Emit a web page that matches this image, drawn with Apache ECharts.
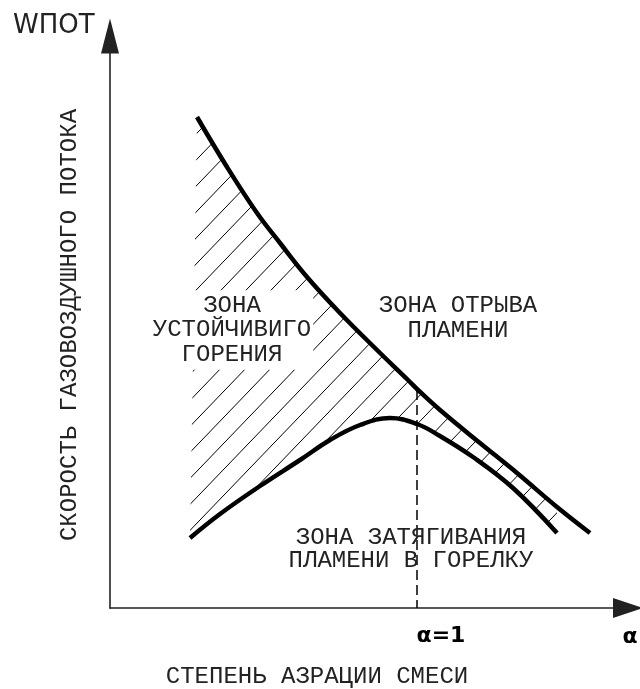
<!DOCTYPE html>
<html><head><meta charset="utf-8">
<script src="https://cdn.jsdelivr.net/npm/echarts@6/dist/echarts.min.js"></script>
<style>html,body{margin:0;padding:0;background:#fff}#c{width:640px;height:689px}</style>
</head><body><div id="c"></div>
<script>
// Upper curve: boundary of flame lift-off (data units)
const upperX = [87, 117, 147, 170, 197, 230, 267, 298, 308, 330, 370, 407, 447, 480];
const upperY = [491, 441, 395, 365, 331, 295, 258, 228, 218, 198, 165, 135, 101, 75];
// Lower curve: boundary of flashback
const lowerX = [80, 110, 150, 190, 220, 250, 280, 307, 330, 363, 403, 447];
const lowerY = [70, 94, 122, 148, 168, 183, 190, 184, 172, 151, 120, 75];
// alpha = 1 marker
const alphaOneX = 307;
const alphaOneTop = 218;
// texts
const yAxisTitle = 'СКОРОСТЬ ГАЗОВОЗДУШНОГО ПОТОКА';
const xAxisTitle = 'СТЕПЕНЬ АЗРАЦИИ СМЕСИ';
const yAxisSymbol = 'WПОТ';
const xAxisSymbol = 'α';
const alphaOneLabel = 'α=1';
const zoneStable = ['ЗОНА', 'УСТОЙЧИВИГО', 'ГОРЕНИЯ'];
const zoneLiftOff = ['ЗОНА ОТРЫВА', 'ПЛАМЕНИ'];
const zoneFlashback = ['ЗОНА ЗАТЯГИВАНИЯ', 'ПЛАМЕНИ В ГОРЕЛКУ'];

const upperData = upperX.map((x, i) => [x, upperY[i]]);
const lowerData = lowerX.map((x, i) => [x, lowerY[i]]);
const hatchEnd = lowerX[lowerX.length - 1];

// hatch pattern
const TW = 25, TH = 26;
const pc = document.createElement('canvas');
pc.width = TW; pc.height = TH;
const pctx = pc.getContext('2d');
pctx.strokeStyle = '#000';
pctx.lineWidth = 1;
pctx.beginPath();
pctx.moveTo(-TW, 2 * TH); pctx.lineTo(2 * TW, -TH);
pctx.stroke();

const chart = echarts.init(document.getElementById('c'), null, {renderer: 'canvas'});
const font = '"Liberation Mono", monospace';
const option = {
  backgroundColor: '#fff',
  animation: false,
  grid: {left: 110, right: 12, top: 36, bottom: 81},
  xAxis: {
    type: 'value', min: 0, max: 518,
    axisLabel: {show: false}, axisTick: {show: false}, splitLine: {show: false},
    axisLine: {show: true, lineStyle: {color: '#222', width: 1.6}, symbol: ['none', 'triangle'], symbolSize: [20, 30]}
  },
  yAxis: {
    type: 'value', min: 0, max: 572,
    axisLabel: {show: false}, axisTick: {show: false}, splitLine: {show: false},
    axisLine: {show: true, lineStyle: {color: '#222', width: 1.6}, symbol: ['none', 'triangle'], symbolSize: [18, 35]}
  },
  series: [
    {
      type: 'custom',
      z: 1,
      data: [0],
      renderItem: function (params, api) {
        const pts = [];
        upperData.forEach(p => { if (p[0] <= hatchEnd) pts.push(api.coord(p)); });
        for (let i = lowerData.length - 1; i >= 0; i--) pts.push(api.coord(lowerData[i]));
        return {
          type: 'polygon',
          shape: {points: pts},
          style: {fill: {image: pc, repeat: 'repeat'}, stroke: null}
        };
      }
    },
    {
      type: 'line', z: 3, data: upperData, smooth: 0.4, showSymbol: false,
      lineStyle: {color: '#000', width: 4.5},
      markLine: {
        silent: true, symbol: ['none', 'none'], label: {show: false},
        lineStyle: {color: '#000', width: 1.5, type: [10, 5]},
        data: [[{coord: [alphaOneX, alphaOneTop]}, {coord: [alphaOneX, 0]}]]
      }
    },
    {
      type: 'line', z: 3, data: lowerData, smooth: 0.4, showSymbol: false,
      lineStyle: {color: '#000', width: 4.5}
    }
  ],
  graphic: [
    {type: 'text', left: 13, top: 13, z: 10, style: {text: yAxisSymbol, font: '26px "DejaVu Sans"', fill: '#222'}},
    {type: 'text', x: 70, y: 325, rotation: Math.PI / 2, z: 10,
     style: {text: yAxisTitle, font: '24px ' + font, fill: '#222', align: 'center', verticalAlign: 'middle'}},
    {type: 'text', x: 317, y: 677, z: 10,
     style: {text: xAxisTitle, font: '24px ' + font, fill: '#222', align: 'center', verticalAlign: 'middle'}},
    {type: 'text', x: 441, y: 636, z: 10,
     style: {text: alphaOneLabel, font: 'bold 22px "DejaVu Sans"', fill: '#000', align: 'center', verticalAlign: 'middle'}},
    {type: 'text', x: 630, y: 637, z: 10,
     style: {text: xAxisSymbol, font: 'bold 22px "DejaVu Sans"', fill: '#000', align: 'center', verticalAlign: 'middle'}},
    {type: 'text', x: 232, y: 330, z: 10,
     style: {text: zoneStable.join('\n'), font: '24px ' + font, lineHeight: 24.5, fill: '#222', align: 'center', verticalAlign: 'middle',
             backgroundColor: '#fff', padding: [3, 2]}},
    {type: 'text', x: 458, y: 318, z: 10,
     style: {text: zoneLiftOff.join('\n'), font: '24px ' + font, lineHeight: 24.5, fill: '#222', align: 'center', verticalAlign: 'middle'}},
    {type: 'text', x: 411, y: 549, z: 10,
     style: {text: zoneFlashback.join('\n'), font: '24px ' + font, lineHeight: 23, fill: '#222', align: 'center', verticalAlign: 'middle'}}
  ]
};
chart.setOption(option);
</script>
</body></html>
